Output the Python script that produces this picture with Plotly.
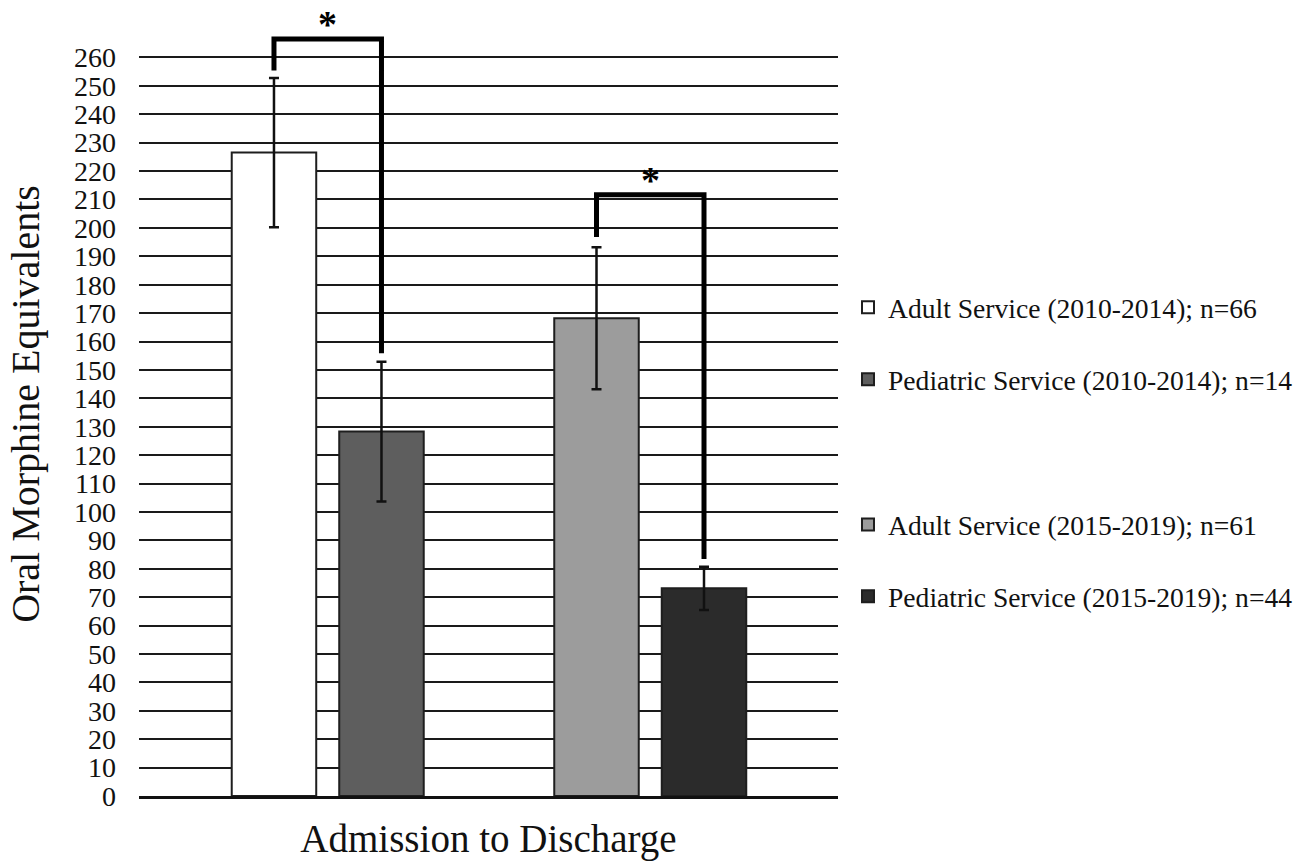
import plotly.graph_objects as go

# ---- data ----
category = "Admission to Discharge"
series_names = [
    "Adult Service (2010-2014); n=66",
    "Pediatric Service (2010-2014); n=14",
    "Adult Service (2015-2019); n=61",
    "Pediatric Service (2015-2019); n=44",
]
means = [226.5, 128.3, 168.2, 73.1]
errors = [26.3, 24.6, 25.0, 7.6]
colors = ["#ffffff", "#5e5e5e", "#9c9c9c", "#2b2b2b"]
# significance brackets: (left slot, right slot, left leg end, top, right leg end)
brackets = [
    (0, 1, 255.4, 266.5, 155.9),
    (3, 4, 196.8, 211.7, 83.4),
]
y_ticks = list(range(0, 261, 10))

FONT = "Liberation Serif"
BARGAP = 0.231
BARGROUPGAP = 0.214
N_SLOTS = 5  # four bars plus an empty slot between the two periods

fig = go.Figure()
traces = []
for i, name in enumerate(series_names):
    traces.append(go.Bar(
        x=[category], y=[means[i]], name=name,
        marker=dict(color=colors[i], line=dict(color="#1e1e1e", width=2)),
        error_y=dict(type="data", array=[errors[i]], color="#111111",
                     thickness=2.5, width=5),
        legend="legend" if i < 2 else "legend2",
        legendgroup=f"g{i}",
    ))
# empty spacer slot between the two time periods
spacer = go.Bar(x=[category], y=[0], name="", showlegend=False,
                marker=dict(color="rgba(0,0,0,0)", line=dict(width=0)),
                hoverinfo="skip")
fig.add_traces([traces[0], traces[1], spacer, traces[2], traces[3]])

slot_w = (1 - BARGAP) / N_SLOTS
def slot_x(k):
    return (k - (N_SLOTS - 1) / 2) * slot_w

for (a, b, ya, ytop, yb) in brackets:
    xa, xb = slot_x(a), slot_x(b)
    fig.add_shape(type="path", xref="x", yref="y",
                  path=f"M {xa},{ya} L {xa},{ytop} L {xb},{ytop} L {xb},{yb}",
                  line=dict(color="#000000", width=5))
    fig.add_annotation(x=(xa + xb) / 2, y=ytop, xref="x", yref="y",
                       text="<b>*</b>", showarrow=False, yanchor="middle",
                       yshift=15, font=dict(family=FONT, size=38, color="#000000"))

fig.update_layout(
    width=1306, height=861,
    margin=dict(l=139, r=468, t=12, b=65, autoexpand=False),
    paper_bgcolor="white", plot_bgcolor="white",
    barmode="group", bargap=BARGAP, bargroupgap=BARGROUPGAP,
    font=dict(family=FONT, color="#000000"),
    legend=dict(x=1.0143, xanchor="left", y=0.6545, yanchor="top",
                font=dict(family=FONT, size=27.6, color="#111111"),
                tracegroupgap=33, bgcolor="rgba(0,0,0,0)"),
    legend2=dict(x=1.0143, xanchor="left", y=0.3775, yanchor="top",
                 font=dict(family=FONT, size=27.6, color="#111111"),
                 tracegroupgap=33, bgcolor="rgba(0,0,0,0)"),
    showlegend=True,
)
fig.update_xaxes(
    type="category", range=[-0.5007, 0.4993],
    showticklabels=False, ticks="", showgrid=False,
    showline=True, linecolor="#111111", linewidth=2.5,
    title=dict(text=category, font=dict(family=FONT, size=39, color="#111111"),
               standoff=30),
)
fig.update_yaxes(
    range=[0, 276], tickmode="array", tickvals=y_ticks,
    ticktext=[str(v) for v in y_ticks],
    tickfont=dict(family=FONT, size=28, color="#111111"),
    ticks="", ticklabelstandoff=22,
    showgrid=True, gridcolor="#1a1a1a", gridwidth=2,
    zeroline=False, showline=False,
    title=dict(text="Oral Morphine Equivalents",
               font=dict(family=FONT, size=40, color="#111111"), standoff=22),
)

fig.write_html("out.html", config={"displayModeBar": False},
               post_script="document.body.style.margin='0';")
